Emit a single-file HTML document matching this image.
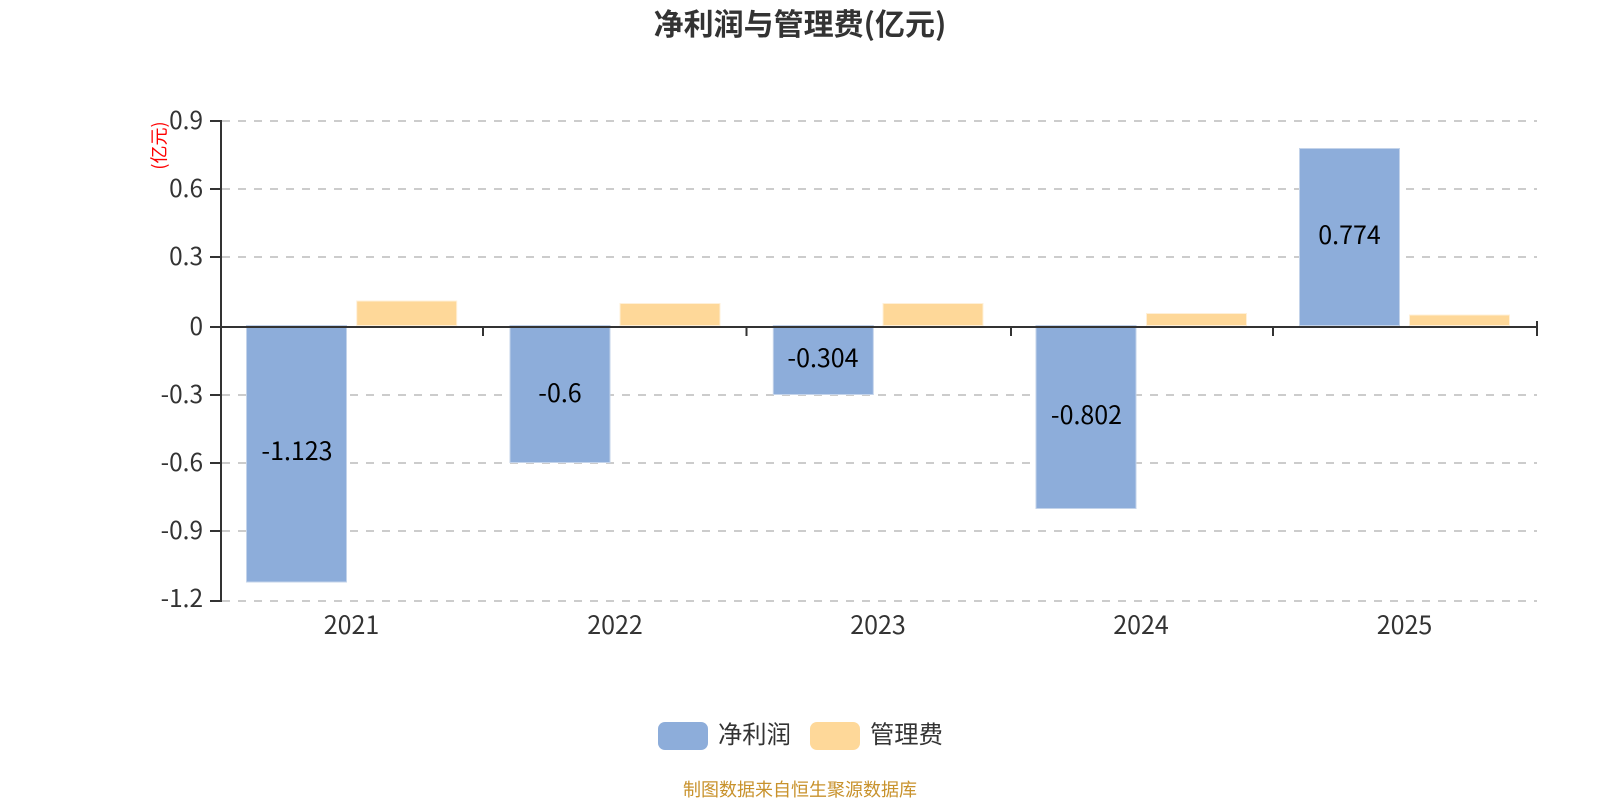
<!DOCTYPE html>
<html lang="zh">
<head>
<meta charset="utf-8">
<title>净利润与管理费(亿元)</title>
<style>
html,body{margin:0;padding:0;background:#fff;width:1600px;height:800px;overflow:hidden}
svg{display:block}
text{font-family:"Liberation Sans","Noto Sans CJK SC",sans-serif}
.n{font-family:"Noto Sans CJK SC","Liberation Sans",sans-serif;font-size:25px}
.y{font-size:24.4px}
</style>
</head>
<body>
<svg width="1600" height="800" viewBox="0 0 1600 800" xmlns="http://www.w3.org/2000/svg">
<rect width="1600" height="800" fill="#fff"/>
<text x="800" y="35" text-anchor="middle" font-size="30" font-weight="700" fill="#333" style="font-family:'Noto Sans CJK SC',sans-serif">净利润与管理费(亿元)</text>

<g stroke="#ccc" stroke-width="2" stroke-dasharray="8 8" fill="none">
<path d="M222 121H1537"/><path d="M222 189H1537"/><path d="M222 257H1537"/>
<path d="M222 395H1537"/><path d="M222 463H1537"/><path d="M222 531H1537"/><path d="M222 601H1537"/>
</g>

<g stroke="#c3d3ea" stroke-width="1">
<rect x="246.5" y="325.5" width="100" height="256.5" fill="#8dadda"/>
<rect x="510" y="325.5" width="100" height="137" fill="#8dadda"/>
<rect x="773.3" y="325.5" width="100" height="69" fill="#8dadda"/>
<rect x="1036" y="325.5" width="100" height="183" fill="#8dadda"/>
<rect x="1299.5" y="148.5" width="100" height="177" fill="#8dadda"/>
</g>
<g fill="#fed899" stroke="#fff0d8" stroke-width="1">
<rect x="356.7" y="301" width="100" height="24.5"/>
<rect x="620" y="303.5" width="100" height="22"/>
<rect x="883" y="303.5" width="100" height="22"/>
<rect x="1146.5" y="313.5" width="100" height="12"/>
<rect x="1409.5" y="315" width="100" height="10.5"/>
</g>

<g stroke="#333" stroke-width="2" fill="none">
<path d="M221 120V602"/>
<path d="M210 121H221M210 189H221M210 257H221M210 327H221M210 395H221M210 463H221M210 531H221M210 601H221"/>
<path d="M220 327H1538"/>
<path d="M483 327V336M746.5 327V336M1011 327V336M1273 327V336M1537 321V336"/>
</g>

<g fill="#333" text-anchor="end">
<text class="n y" x="203" y="129">0.9</text>
<text class="n y" x="203" y="197">0.6</text>
<text class="n y" x="203" y="265">0.3</text>
<text class="n y" x="203" y="335">0</text>
<text class="n y" x="203" y="403">-0.3</text>
<text class="n y" x="203" y="471">-0.6</text>
<text class="n y" x="203" y="539">-0.9</text>
<text class="n y" x="203" y="607">-1.2</text>
</g>
<g fill="#333" text-anchor="middle">
<text class="n" x="351.5" y="634">2021</text>
<text class="n" x="615" y="634">2022</text>
<text class="n" x="878" y="634">2023</text>
<text class="n" x="1141" y="634">2024</text>
<text class="n" x="1404.5" y="634">2025</text>
</g>
<g fill="#000" text-anchor="middle">
<text class="n" x="297" y="460">-1.123</text>
<text class="n" x="560" y="402">-0.6</text>
<text class="n" x="823" y="367">-0.304</text>
<text class="n" x="1086.5" y="424">-0.802</text>
<text class="n" x="1349.5" y="244">0.774</text>
</g>

<text transform="translate(165.5,145.5) rotate(-90)" text-anchor="middle" font-size="18" fill="#f00" style="font-family:'Noto Sans CJK SC',sans-serif">(亿元)</text>

<rect x="658" y="722" width="50" height="28" rx="7" fill="#8dadda"/>
<text class="n" x="718" y="743" fill="#333" style="font-size:24.3px">净利润</text>
<rect x="810" y="722" width="50" height="28" rx="7" fill="#fed899"/>
<text class="n" x="870" y="743" fill="#333" style="font-size:24.3px">管理费</text>

<text x="800" y="796" text-anchor="middle" font-size="18" fill="#c8922c" style="font-family:'Noto Sans CJK SC',sans-serif">制图数据来自恒生聚源数据库</text>
</svg>
</body>
</html>
